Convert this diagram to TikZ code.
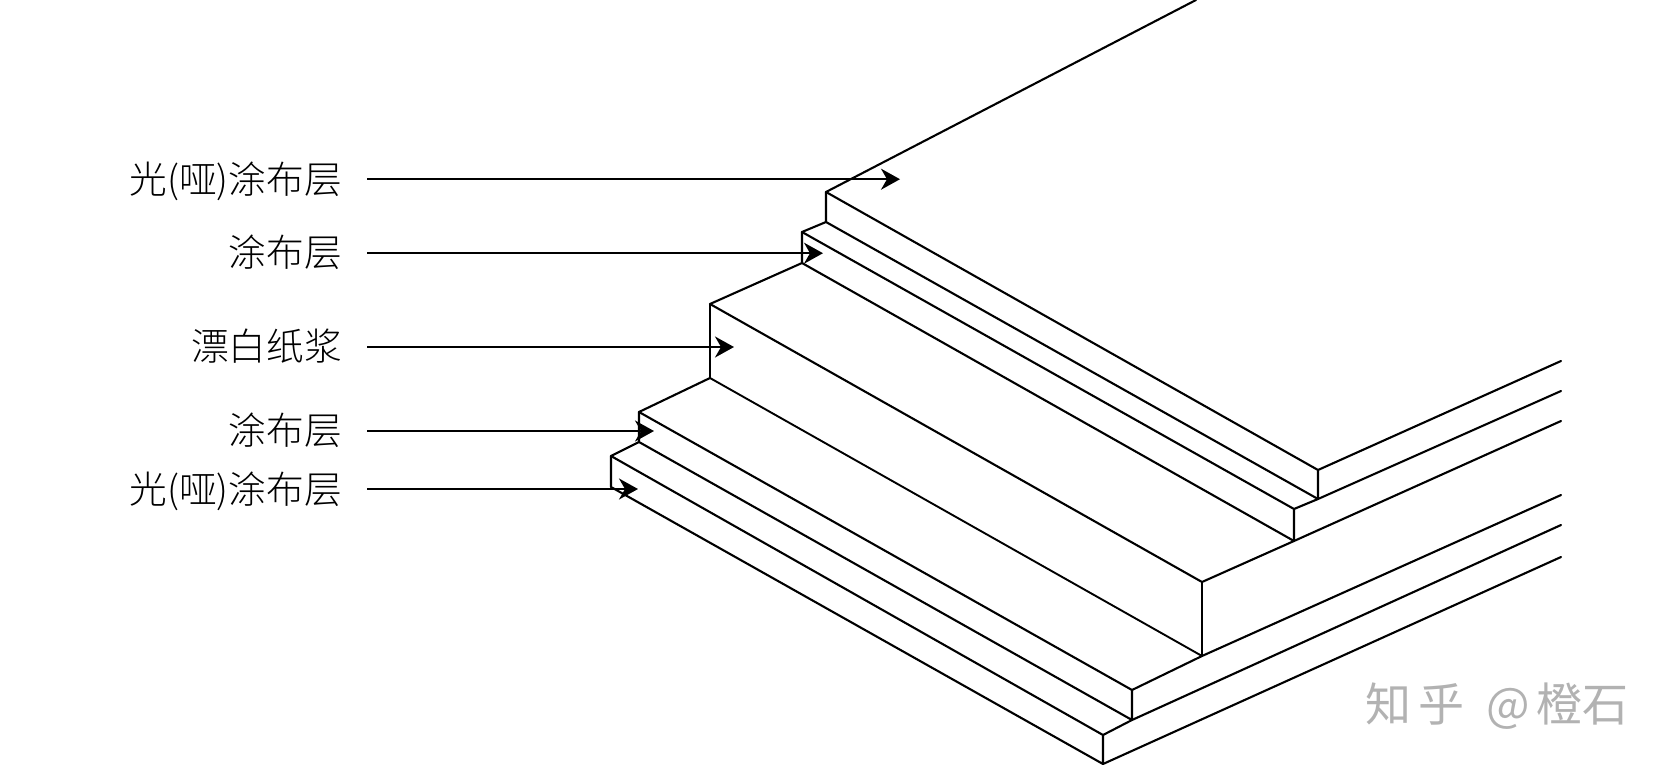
\documentclass[tikz,border=0pt]{standalone}
\usepackage{fontspec}
\usetikzlibrary{arrows.meta}
\newfontfamily\cjk{Noto Sans CJK SC Light}
\newfontfamily\cjkmark{Noto Sans CJK SC}
\tikzset{
  x=1pt,y=-1pt,
  edge/.style={draw=black,line width=2.1pt,line cap=round,line join=round},
  thinedge/.style={draw=black,line width=1.9pt,line cap=round,line join=round},
  pointer/.style={draw=black,line width=2.1pt,-{Stealth[length=19pt,width=21pt,inset=6pt]}},
  lab/.style={anchor=base east,inner sep=0pt,font=\cjk\fontsize{37.7}{38}\selectfont,text=black},
  wmark/.style={anchor=base west,inner sep=0pt,font=\cjkmark\fontsize{46}{46}\selectfont,text=black!30}
}
\begin{document}
\begin{tikzpicture}
\useasboundingbox (0,0) rectangle (1668,771);
% upper-left corners
\coordinate (a1) at (826,192); \coordinate (a2) at (826,222);
\coordinate (b1) at (802,232); \coordinate (b2) at (802,263);
\coordinate (c1) at (710,304); \coordinate (c2) at (710,378);
\coordinate (d1) at (639,412); \coordinate (d2) at (639,442);
\coordinate (e1) at (611,456); \coordinate (e2) at (611,487);
% front corners
\coordinate (A1) at (1318,470); \coordinate (A2) at (1318,499);
\coordinate (B1) at (1294,509); \coordinate (B2) at (1294,541);
\coordinate (C1) at (1202,582); \coordinate (C2) at (1202,656);
\coordinate (D1) at (1132,690); \coordinate (D2) at (1132,720);
\coordinate (E1) at (1103,735); \coordinate (E2) at (1103,764);
% free ends
\coordinate (top) at (1196,0);
\coordinate (r1) at (1561,361); \coordinate (r2) at (1561,391);
\coordinate (r3) at (1561,421); \coordinate (r4) at (1561,495);
\coordinate (r5) at (1561,525); \coordinate (r6) at (1561,557);
% outline
\draw[edge] (top) -- (a1) -- (A1) -- (r1);
\draw[edge] (a1) -- (a2) -- (A2) -- (r2);
\draw[edge] (A1) -- (A2) -- (B1);
\draw[edge] (a2) -- (b1) -- (B1) -- (B2);
\draw[edge] (b1) -- (b2) -- (B2) -- (r3);
\draw[edge] (b2) -- (c1) -- (C1) -- (B2);
\draw[thinedge] (c1) -- (c2) -- (C2) -- (C1);
\draw[edge] (c2) -- (d1) -- (D1) -- (C2) -- (r4);
\draw[edge] (d1) -- (d2) -- (D2) -- (D1);
\draw[edge] (d2) -- (e1) -- (E1) -- (D2) -- (r5);
\draw[edge] (e1) -- (e2) -- (E2) -- (E1);
\draw[edge] (E2) -- (r6);
% labels
\node[lab] (l1) at (342,193.5) {光(哑)涂布层};
\node[lab] (l2) at (342,266) {涂布层};
\node[lab] (l3) at (342,360) {漂白纸浆};
\node[lab] (l4) at (342,444) {涂布层};
\node[lab] (l5) at (342,503) {光(哑)涂布层};
% pointers
\coordinate (s1) at (367,179.2); \coordinate (t1) at (900,179.2);
\coordinate (s2) at (367,253.2); \coordinate (t2) at (823,253.2);
\coordinate (s3) at (367,347);   \coordinate (t3) at (734,347);
\coordinate (s4) at (367,431);   \coordinate (t4) at (654,431);
\coordinate (s5) at (367,489);   \coordinate (t5) at (638,489);
\draw[pointer] (s1) -- (t1);
\draw[pointer] (s2) -- (t2);
\draw[pointer] (s3) -- (t3);
\draw[pointer] (s4) -- (t4);
\draw[pointer] (s5) -- (t5);
% watermark
\node[wmark] (w) at (1365,721) {知\hspace{7pt}乎\hspace{22pt}@\hspace{7pt}橙\hspace{0pt}石};
\end{tikzpicture}
\end{document}
